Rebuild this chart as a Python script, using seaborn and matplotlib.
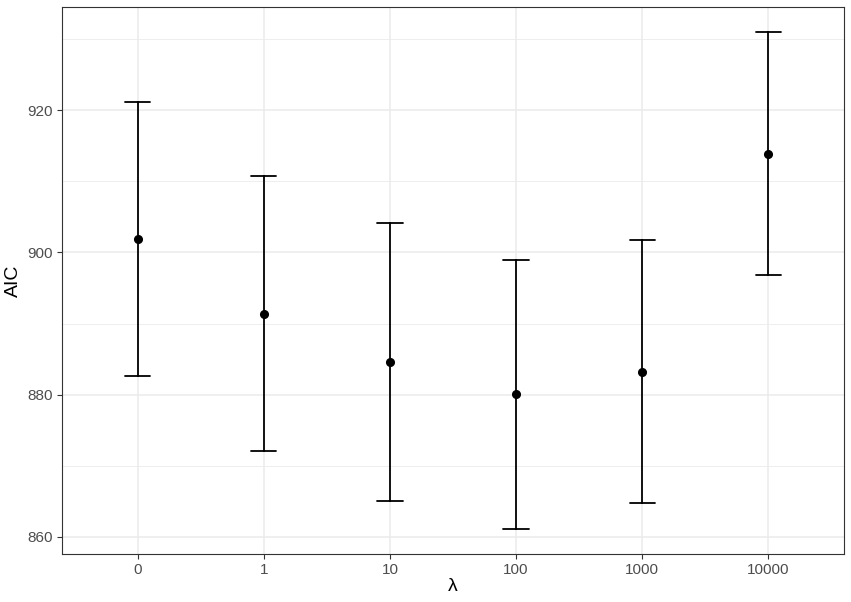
import pandas as pd
import matplotlib
matplotlib.use("Agg")
import matplotlib.pyplot as plt
import seaborn as sns
from matplotlib.ticker import MultipleLocator

# values
lambdas = ["0", "1", "10", "100", "1000", "10000"]
aic_mid = [901.9, 891.4, 884.6, 880.1, 883.2, 913.9]
aic_low = [882.6, 872.1, 865.1, 861.1, 864.7, 896.8]
aic_high = [921.2, 910.7, 904.2, 899.0, 901.7, 931.0]

# long table: median gives the point, the full range gives the bar
df = pd.DataFrame({
    "lam": lambdas * 3,
    "aic": aic_low + aic_mid + aic_high,
})

sns.set_theme(style="white")
plt.rcParams["font.family"] = ["Liberation Sans", "DejaVu Sans"]

fig = plt.figure(figsize=(8.51, 6.02), dpi=100)
ax = fig.add_axes([62 / 851, 1 - 554 / 602, (844 - 62) / 851, (554 - 7) / 602])

sns.pointplot(data=df, x="lam", y="aic", order=lambdas, estimator="median",
              errorbar=("pi", 100), capsize=0.2, linestyle="none",
              color="black", markersize=4.5, err_kws={"linewidth": 1.3}, ax=ax)

ax.set_xlim(-0.6, 5.6)
ax.set_ylim(857.6, 934.5)
ax.set_yticks([860, 880, 900, 920])
ax.yaxis.set_minor_locator(MultipleLocator(10))

ax.set_axisbelow(True)
ax.grid(True, which="major", axis="both", color="#EBEBEB", linewidth=1.1)
ax.grid(True, which="minor", axis="y", color="#EBEBEB", linewidth=0.6)

for s in ax.spines.values():
    s.set_visible(True)
    s.set_color("#333333")
    s.set_linewidth(0.8)

ax.tick_params(axis="both", which="major", length=3.5, width=0.8, color="#333333",
               labelsize=11, labelcolor="#4D4D4D", pad=3, bottom=True, left=True)
ax.tick_params(axis="y", which="minor", length=0)

ax.set_xlabel("λ", fontsize=14, color="black", labelpad=1)
ax.set_ylabel("AIC", fontsize=14, color="black", labelpad=4)

fig.savefig("out.png", dpi=100)
